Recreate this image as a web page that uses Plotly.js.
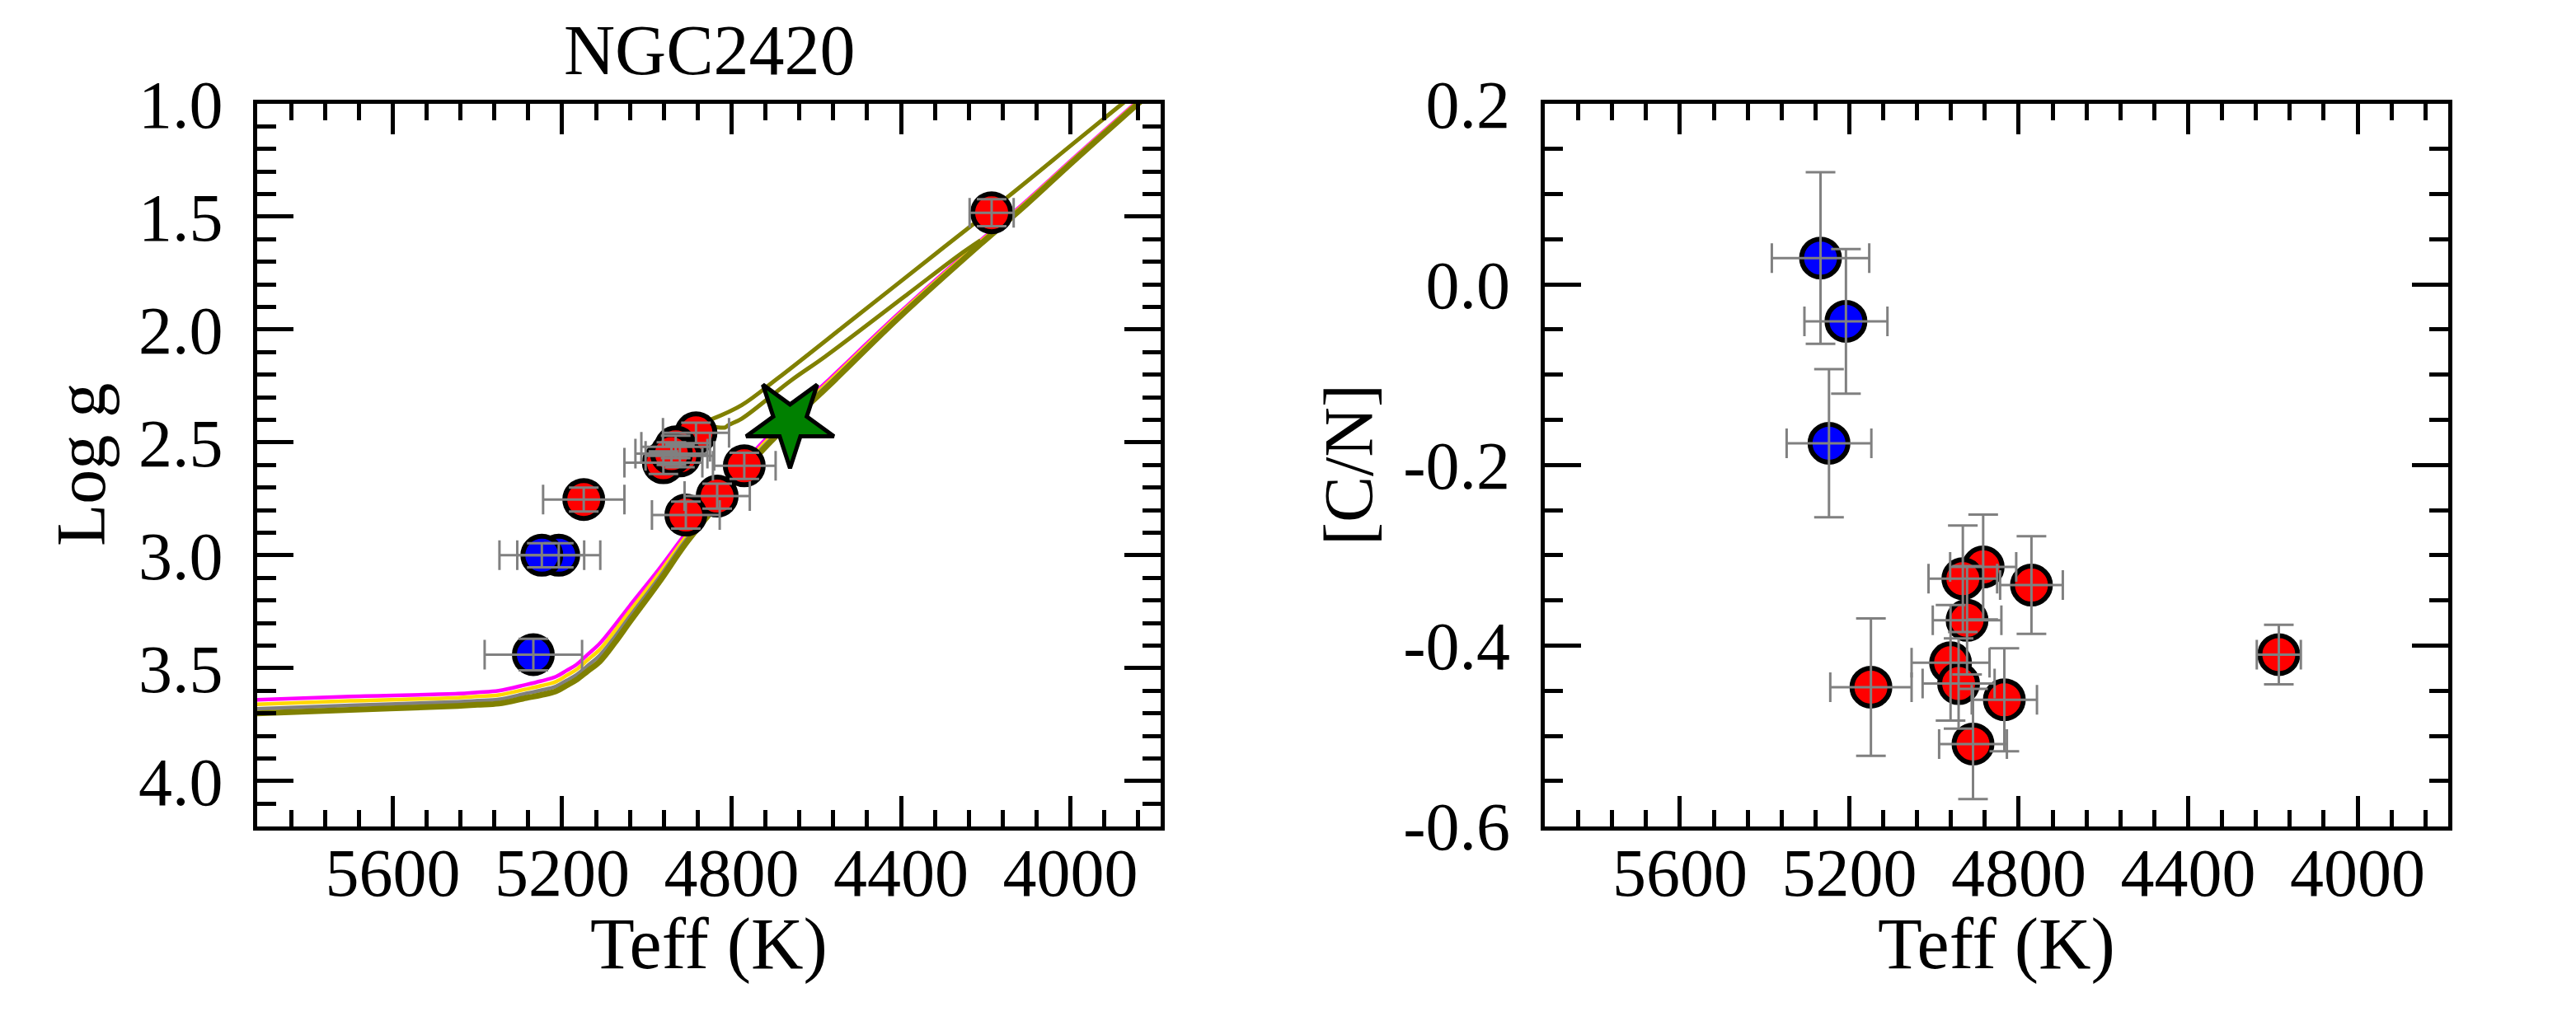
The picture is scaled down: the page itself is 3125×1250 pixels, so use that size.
<!DOCTYPE html>
<html>
<head>
<meta charset="utf-8">
<script src="https://cdn.plot.ly/plotly-3.0.1.min.js"></script>
<style>html,body{margin:0;padding:0;background:#fff;}#chart{width:3125px;height:1250px;}</style>
</head>
<body>
<div id="chart"></div>
<script>
// ---------- data ----------
const redTeff  = [4186, 4884, 4932, 4770, 4922, 4961, 4942, 4834, 4908, 5149];
const redLogg  = [1.483, 2.458, 2.52, 2.604, 2.56, 2.59, 2.55, 2.738, 2.822, 2.753];
const redCN    = [-0.410, -0.313, -0.326, -0.333, -0.372, -0.419, -0.442, -0.460, -0.509, -0.446];
const redTeffErr = [52, 78, 81, 74, 81, 92, 85, 77, 80, 96];
const redLoggErr = [0.06, 0.045, 0.05, 0.058, 0.05, 0.05, 0.05, 0.055, 0.06, 0.053];
const redCNErr   = [0.033, 0.058, 0.059, 0.054, 0.06, 0.064, 0.05, 0.057, 0.061, 0.076];
const blueTeff = [5268, 5208, 5248];
const blueLogg = [3.44, 3.0, 3.0];
const blueCN   = [0.029, -0.041, -0.176];
const blueTeffErr = [115, 98, 100];
const blueLoggErr = [0.07, 0.053, 0.053];
const blueCNErr   = [0.095, 0.080, 0.082];
const starTeff = [4662];
const starLogg = [2.41];
// isochrones (main branch)
const isoTeff    = [5950, 5700, 5446, 5400, 5350, 5285, 5250, 5215, 5190, 5166, 5140, 5111, 5076, 5041, 4971, 4906, 4820, 4737, 4650, 4568, 4409, 4212, 4120, 3990, 3845, 3780];
const isoMagenta = [3.642, 3.625, 3.613, 3.607, 3.600, 3.573, 3.557, 3.538, 3.511, 3.484, 3.440, 3.390, 3.310, 3.225, 3.060, 2.898, 2.705, 2.520, 2.360, 2.218, 1.935, 1.605, 1.458, 1.237, 0.995, 0.890];
const isoGold    = [3.662, 3.645, 3.631, 3.625, 3.619, 3.593, 3.578, 3.560, 3.533, 3.506, 3.464, 3.417, 3.336, 3.249, 3.080, 2.913, 2.718, 2.532, 2.370, 2.227, 1.942, 1.611, 1.463, 1.241, 0.999, 0.894];
const isoGray    = [3.682, 3.665, 3.649, 3.644, 3.638, 3.612, 3.598, 3.581, 3.555, 3.529, 3.489, 3.443, 3.362, 3.273, 3.099, 2.928, 2.732, 2.543, 2.380, 2.236, 1.948, 1.616, 1.468, 1.246, 1.004, 0.899];
const isoOlive   = [3.702, 3.685, 3.667, 3.662, 3.657, 3.632, 3.619, 3.603, 3.577, 3.551, 3.513, 3.470, 3.388, 3.297, 3.119, 2.943, 2.745, 2.555, 2.390, 2.245, 1.955, 1.622, 1.473, 1.250, 1.008, 0.903];
// isochrones (upper branches)
const agbATeff = [4850, 4776, 4692, 4514, 4317, 4146, 3989, 3884, 3800];
const agbALogg = [2.40, 2.335, 2.218, 1.955, 1.663, 1.41, 1.17, 1.01, 0.885];
const agbBTeff = [4846, 4815, 4808, 4776, 4659, 4579, 4382, 4264, 4212];
const agbBLogg = [2.43, 2.434, 2.424, 2.395, 2.225, 2.12, 1.840, 1.672, 1.605];
// tick labels
const teffTicks = [5600, 5200, 4800, 4400, 4000];
const teffTickText = ['5600', '5200', '4800', '4400', '4000'];
const loggTicks = [1.0, 1.5, 2.0, 2.5, 3.0, 3.5, 4.0];
const loggTickText = ['1.0', '1.5', '2.0', '2.5', '3.0', '3.5', '4.0'];
const cnTicks = [0.2, 0.0, -0.2, -0.4, -0.6];
const cnTickText = ['0.2', '0.0', '-0.2', '-0.4', '-0.6'];

// ---------- styling ----------
const FONT = 'Liberation Serif, Times New Roman, serif';
const W = 3125, H = 1250;
const px = v => v / W, py = v => 1 - v / H;
const errStyle = {color: '#808080', thickness: 3, width: 18};

function isoLine(x, y, color, width, xa, ya) {
  return {x: x, y: y, xaxis: xa, yaxis: ya, mode: 'lines', type: 'scatter',
    line: {color: color, width: width, shape: 'spline', smoothing: 1.0},
    hoverinfo: 'skip', showlegend: false, cliponaxis: true};
}
function dots(x, y, color, xa, ya) {
  return {x: x, y: y, xaxis: xa, yaxis: ya, mode: 'markers', type: 'scatter',
    marker: {size: 46, color: color, line: {color: 'black', width: 6}},
    showlegend: false, cliponaxis: true};
}
function bars(x, y, ex, ey, xa, ya) {
  return {x: x, y: y, xaxis: xa, yaxis: ya, mode: 'markers', type: 'scatter',
    marker: {size: 2, color: 'rgba(0,0,0,0)'},
    error_x: Object.assign({type: 'data', array: ex, visible: true}, errStyle),
    error_y: Object.assign({type: 'data', array: ey, visible: true}, errStyle),
    showlegend: false, cliponaxis: true};
}

const traces = [
  isoLine(isoTeff, isoMagenta, '#FF00FF', 4.5, 'x', 'y'),
  isoLine(isoTeff, isoGold, '#FFD700', 4.5, 'x', 'y'),
  isoLine(isoTeff, isoGray, '#808080', 4.5, 'x', 'y'),
  isoLine(isoTeff, isoOlive, '#808000', 7, 'x', 'y'),
  isoLine(agbATeff, agbALogg, '#808000', 5, 'x', 'y'),
  isoLine(agbBTeff, agbBLogg, '#808000', 5, 'x', 'y'),
  dots(redTeff, redLogg, '#FF0000', 'x', 'y'),
  dots(blueTeff, blueLogg, '#0000FF', 'x', 'y'),
  bars(redTeff, redLogg, redTeffErr, redLoggErr, 'x', 'y'),
  bars(blueTeff, blueLogg, blueTeffErr, blueLoggErr, 'x', 'y'),
  {x: starTeff, y: starLogg, xaxis: 'x', yaxis: 'y', mode: 'markers', type: 'scatter',
   marker: {symbol: 'star', angle: 180, size: 80, color: '#008000', line: {color: 'black', width: 5}},
   showlegend: false, cliponaxis: true},
  dots(redTeff, redCN, '#FF0000', 'x2', 'y2'),
  dots(blueTeff, blueCN, '#0000FF', 'x2', 'y2'),
  bars(redTeff, redCN, redTeffErr, redCNErr, 'x2', 'y2'),
  bars(blueTeff, blueCN, blueTeffErr, blueCNErr, 'x2', 'y2')
];

function axisBase(extra) {
  return Object.assign({
    showline: true, linecolor: 'black', linewidth: 5, mirror: 'allticks',
    ticks: 'inside', tickcolor: 'black', tickwidth: 5,
    showgrid: false, zeroline: false, fixedrange: true,
    tickfont: {family: FONT, size: 82, color: 'black'},
    tickmode: 'array', tickangle: 0, automargin: false
  }, extra);
}
function xCommon() {
  return {range: [5920, 3787], tickvals: teffTicks, ticktext: teffTickText, ticklen: 37,
    tickfont: {family: FONT, size: 82, color: 'black'},
    minor: {ticks: 'inside', ticklen: 20, tickwidth: 5, tickcolor: 'black', tickmode: 'linear', tick0: 5600, dtick: 80, showgrid: false},
    ticklabelstandoff: -19};
}
const layout = {
  width: W, height: H, paper_bgcolor: 'white', plot_bgcolor: 'white',
  margin: {l: 0, r: 0, t: 0, b: 0},
  showlegend: false,
  xaxis: axisBase(Object.assign({domain: [312 / W, 1408 / W], anchor: 'y'}, xCommon())),
  xaxis2: axisBase(Object.assign({domain: [1873.5 / W, 2969.5 / W], anchor: 'y2'}, xCommon())),
  yaxis: axisBase({domain: [py(1002.7), py(125.8)], anchor: 'x', range: [4.2, 1.0],
    tickvals: loggTicks, ticktext: loggTickText, ticklen: 44, ticklabelstandoff: 20,
    minor: {ticks: 'inside', ticklen: 22.5, tickwidth: 5, tickcolor: 'black', tickmode: 'linear', tick0: 1.0, dtick: 0.1, showgrid: false}}),
  yaxis2: axisBase({domain: [py(1002.7), py(125.8)], anchor: 'x2', range: [-0.6, 0.2],
    tickvals: cnTicks, ticktext: cnTickText, ticklen: 44, ticklabelstandoff: 20,
    minor: {ticks: 'inside', ticklen: 22.5, tickwidth: 5, tickcolor: 'black', tickmode: 'linear', tick0: 0, dtick: 0.05, showgrid: false}}),
  annotations: [
    {text: 'NGC2420', xref: 'paper', yref: 'paper', x: px(861), y: py(61), xanchor: 'center', yanchor: 'middle', showarrow: false, font: {family: FONT, size: 86, color: 'black'}},
    {text: 'Teff (K)', xref: 'paper', yref: 'paper', x: px(860), y: py(1145), xanchor: 'center', yanchor: 'middle', showarrow: false, font: {family: FONT, size: 88, color: 'black'}},
    {text: 'Teff (K)', xref: 'paper', yref: 'paper', x: px(2421.5), y: py(1145), xanchor: 'center', yanchor: 'middle', showarrow: false, font: {family: FONT, size: 88, color: 'black'}},
    {text: 'Log g', xref: 'paper', yref: 'paper', x: px(98), y: py(564), xanchor: 'center', yanchor: 'middle', textangle: -90, showarrow: false, font: {family: FONT, size: 84, color: 'black'}},
    {text: '[C/N]', xref: 'paper', yref: 'paper', x: px(1636), y: py(564), xanchor: 'center', yanchor: 'middle', textangle: -90, showarrow: false, font: {family: FONT, size: 84, color: 'black'}}
  ]
};
Plotly.newPlot('chart', traces, layout, {staticPlot: true, displayModeBar: false});
</script>
</body>
</html>
